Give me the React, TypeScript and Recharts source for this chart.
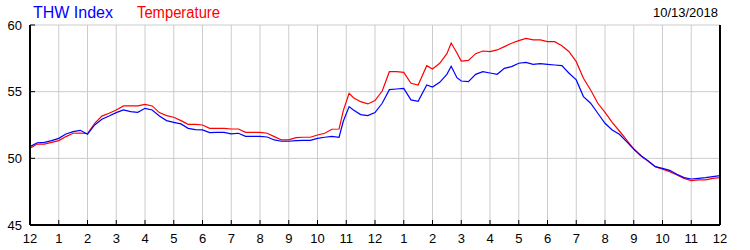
import { CartesianGrid, Line, LineChart, XAxis, YAxis } from "recharts";

// 時刻 (0 = 12am, 24 = 翌12am)
const hours = [
  0, 0.25, 0.5, 0.75, 1, 1.25, 1.5, 1.75, 2, 2.25, 2.5, 2.75, 3, 3.25, 3.5,
  3.75, 4, 4.25, 4.5, 4.75, 5, 5.25, 5.5, 5.75, 6, 6.25, 6.5, 6.75, 7, 7.25,
  7.5, 7.75, 8, 8.25, 8.5, 8.75, 9, 9.25, 9.5, 9.75, 10, 10.25, 10.5, 10.75,
  10.9, 11.1, 11.25, 11.5, 11.75, 12, 12.25, 12.5, 12.75, 13, 13.25, 13.5,
  13.8, 14, 14.25, 14.5, 14.65, 14.85, 15, 15.25, 15.5, 15.75, 16, 16.25,
  16.5, 16.75, 17, 17.25, 17.5, 17.75, 18, 18.25, 18.5, 18.75, 19, 19.25,
  19.5, 19.75, 20, 20.25, 20.5, 20.75, 21, 21.25, 21.5, 21.75, 22, 22.25,
  22.5, 22.75, 23, 23.25, 23.5, 23.75, 24,
];

const temperature = [
  50.75, 51.07, 51.07, 51.2, 51.33, 51.63, 51.88, 51.9, 51.85, 52.63, 53.17,
  53.38, 53.63, 53.93, 53.93, 53.93, 54.05, 53.93, 53.43, 53.2, 53.08, 52.83,
  52.55, 52.55, 52.5, 52.25, 52.25, 52.25, 52.2, 52.2, 51.95, 51.95, 51.95,
  51.88, 51.63, 51.38, 51.38, 51.55, 51.58, 51.58, 51.75, 51.88, 52.18, 52.2,
  53.6, 54.88, 54.55, 54.25, 54.08, 54.33, 55.05, 56.5, 56.5, 56.45, 55.63,
  55.5, 56.95, 56.7, 57.13, 57.85, 58.65, 57.9, 57.3, 57.35, 57.85, 58.05,
  58.0, 58.13, 58.38, 58.63, 58.83, 59.0, 58.88, 58.88, 58.75, 58.75, 58.45,
  58.0, 57.25, 56.0, 55.13, 54.13, 53.45, 52.7, 52.05, 51.38, 50.7, 50.2,
  49.8, 49.38, 49.18, 49.0, 48.75, 48.5, 48.33, 48.38, 48.38, 48.5, 48.55,
];

const thwIndex = [
  50.88, 51.17, 51.2, 51.33, 51.5, 51.83, 52.0, 52.1, 51.8, 52.5, 52.93,
  53.17, 53.43, 53.63, 53.5, 53.45, 53.75, 53.63, 53.17, 52.83, 52.7, 52.58,
  52.25, 52.15, 52.13, 51.93, 51.95, 51.95, 51.83, 51.88, 51.65, 51.65, 51.65,
  51.6, 51.38, 51.28, 51.28, 51.33, 51.35, 51.35, 51.5, 51.58, 51.65, 51.58,
  52.8, 53.88, 53.63, 53.28, 53.2, 53.43, 54.13, 55.15, 55.2, 55.25, 54.38,
  54.28, 55.5, 55.35, 55.7, 56.3, 56.9, 56.05, 55.8, 55.75, 56.3, 56.5, 56.4,
  56.3, 56.75, 56.88, 57.13, 57.2, 57.05, 57.1, 57.05, 57.0, 56.95, 56.38,
  55.88, 54.63, 54.13, 53.38, 52.63, 52.13, 51.8, 51.25, 50.7, 50.2, 49.8,
  49.38, 49.25, 49.1, 48.8, 48.55, 48.45, 48.5, 48.55, 48.63, 48.7,
];

const hourTicks = [
  0, 1, 2, 3, 4, 5, 6, 7, 8, 9, 10, 11, 12, 13, 14, 15, 16, 17, 18, 19, 20,
  21, 22, 23, 24,
];
const yTicks = [45, 50, 55, 60];

const FONT = "'Liberation Sans', Arial, sans-serif";

const data = hours.map((h, i) => ({
  h,
  temp: temperature[i],
  thw: thwIndex[i],
}));

const hourLabel = (h: number) => String(h % 12 === 0 ? 12 : h % 12);

// 下軸: 内向きの目盛り + ラベル
const BottomTick = ({ x, y, payload }: any) => (
  <g>
    <line x1={x} y1={y} x2={x} y2={y - 5} stroke="#000" strokeWidth={1} />
    <text x={x} y={y + 18} textAnchor="middle" fontSize={13} fontFamily={FONT} fill="#000">
      {hourLabel(payload.value)}
    </text>
  </g>
);

const TopTick = ({ x, y }: any) => (
  <line x1={x} y1={y} x2={x} y2={y + 5} stroke="#000" strokeWidth={1} />
);

const LeftTick = ({ x, y, payload }: any) => (
  <g>
    <line x1={x} y1={y} x2={x + 5} y2={y} stroke="#000" strokeWidth={1} />
    <text x={x - 8} y={y + 4.5} textAnchor="end" fontSize={13} fontFamily={FONT} fill="#000">
      {payload.value}
    </text>
  </g>
);

const RightTick = ({ x, y, payload }: any) => (
  <g>
    <line x1={x} y1={y} x2={x - 5} y2={y} stroke="#000" strokeWidth={1} />
    <text x={x + 7} y={y + 4.5} textAnchor="start" fontSize={13} fontFamily={FONT} fill="#000">
      {payload.value}
    </text>
  </g>
);

export default function App() {
  return (
    <div style={{ position: "absolute", left: 0, top: 0, width: 750, height: 250, background: "#fff" }}>
      <LineChart
        width={750}
        height={250}
        data={data}
        margin={{ top: 25, right: 0, bottom: 0, left: 0 }}
      >
        <CartesianGrid stroke="#cccccc" strokeWidth={1} />
        <XAxis
          dataKey="h"
          type="number"
          domain={[0, 24]}
          ticks={hourTicks}
          interval={0}
          height={25}
          tickSize={0}
          tickMargin={0}
          tick={<BottomTick />}
          axisLine={{ stroke: "#000", strokeWidth: 2 }}
        />
        <XAxis
          xAxisId="top"
          orientation="top"
          dataKey="h"
          type="number"
          domain={[0, 24]}
          ticks={hourTicks}
          interval={0}
          height={0}
          tickSize={0}
          tickMargin={0}
          tick={<TopTick />}
          axisLine={{ stroke: "#000", strokeWidth: 2 }}
        />
        <YAxis
          domain={[45, 60]}
          ticks={yTicks}
          interval={0}
          width={30}
          tickSize={0}
          tickMargin={0}
          tick={<LeftTick />}
          axisLine={{ stroke: "#000", strokeWidth: 2 }}
        />
        <YAxis
          yAxisId="right"
          orientation="right"
          domain={[45, 60]}
          ticks={yTicks}
          interval={0}
          width={30}
          tickSize={0}
          tickMargin={0}
          tick={<RightTick />}
          axisLine={{ stroke: "#000", strokeWidth: 2 }}
        />
        <Line
          dataKey="temp"
          type="linear"
          stroke="#ff0000"
          strokeWidth={1.2}
          dot={false}
          isAnimationActive={false}
        />
        <Line
          dataKey="thw"
          type="linear"
          stroke="#0000ff"
          strokeWidth={1.2}
          dot={false}
          isAnimationActive={false}
        />
      </LineChart>
      <svg
        width={750}
        height={25}
        style={{ position: "absolute", left: 0, top: 0, pointerEvents: "none" }}
      >
        <text x={33} y={18} fontSize={16} fontFamily={FONT} fill="#0000ff" textLength={80} lengthAdjust="spacingAndGlyphs">
          THW Index
        </text>
        <text x={137} y={18} fontSize={16} fontFamily={FONT} fill="#ff0000" textLength={83} lengthAdjust="spacingAndGlyphs">
          Temperature
        </text>
        <text x={718} y={17} fontSize={13} fontFamily={FONT} fill="#000" textAnchor="end">
          10/13/2018
        </text>
      </svg>
    </div>
  );
}
